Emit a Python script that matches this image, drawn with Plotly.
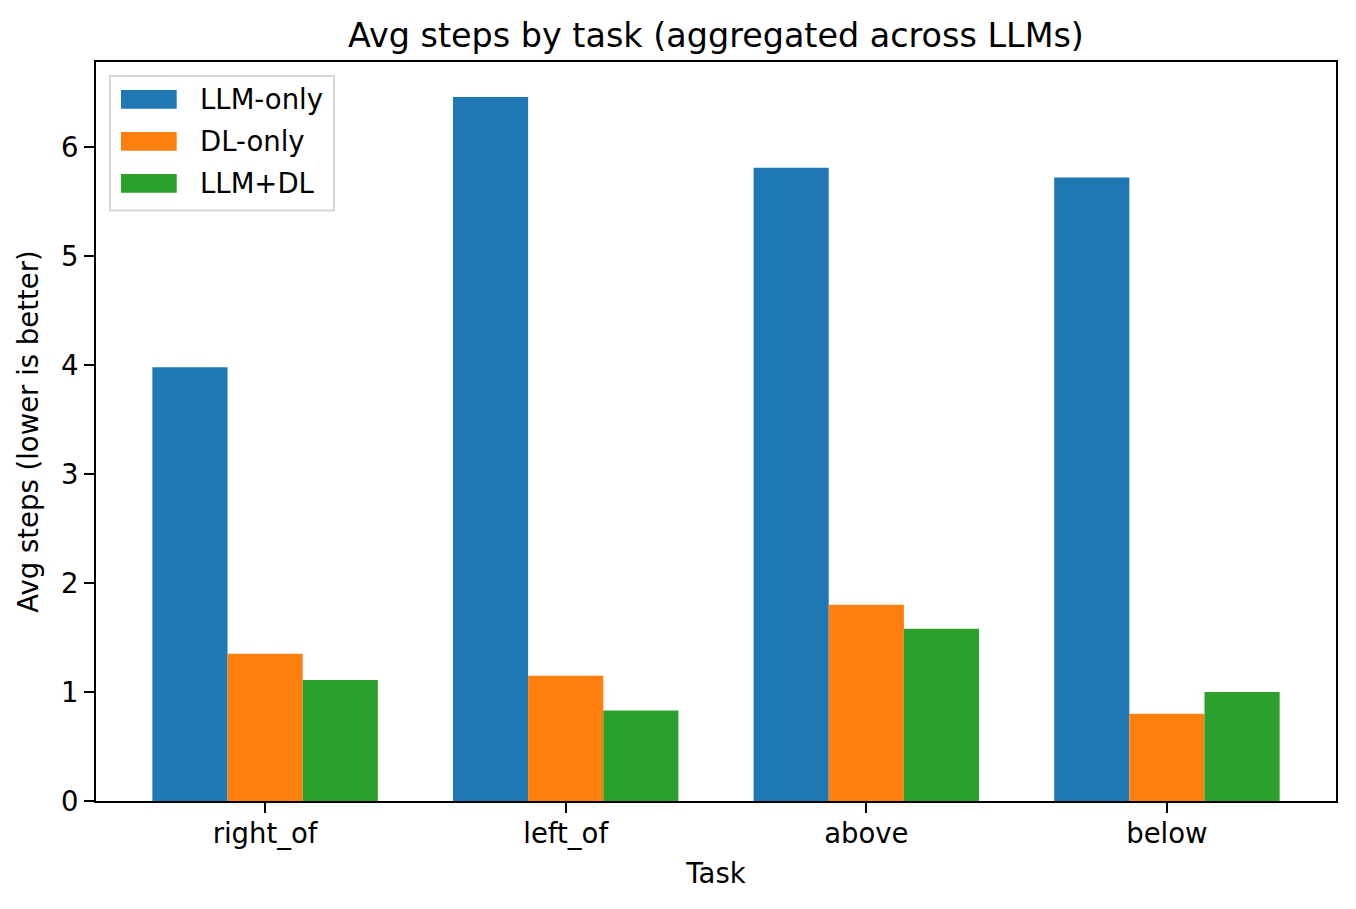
import plotly.graph_objects as go

tasks = ["right_of", "left_of", "above", "below"]
llm_only = [3.98, 6.46, 5.81, 5.72]
dl_only = [1.35, 1.15, 1.80, 0.80]
llm_dl = [1.11, 0.83, 1.58, 1.00]
series_names = ["LLM-only", "DL-only", "LLM+DL"]
colors = ["#1f77b4", "#ff7f0e", "#2ca02c"]

OFF = 8  # page body margin
W, H = 1356, 909
L, R, T, B = 96 - OFF, 1336 - OFF, 62 - OFF, 801 - OFF
FS = 27.5

def px(x):
    return (x - OFF - L) / (R - L)

def py(y):
    return (B - (y - OFF)) / (B - T)

fig = go.Figure()
for name, vals, c in zip(series_names, [llm_only, dl_only, llm_dl], colors):
    fig.add_trace(go.Bar(x=tasks, y=vals, name=name, marker=dict(color=c, line=dict(width=0)),
                         showlegend=False))

shapes = []
annotations = []
shapes.append(dict(type="rect", xref="paper", yref="paper",
                   x0=px(110), x1=px(334), y0=py(210.5), y1=py(76),
                   line=dict(color="#d6d6d6", width=2), fillcolor="rgba(255,255,255,0.8)", layer="above"))
rows = [(90, 108.7), (132, 150.7), (174, 192.7)]
for (y0, y1), name, c in zip(rows, series_names, colors):
    shapes.append(dict(type="rect", xref="paper", yref="paper",
                       x0=px(121), x1=px(176.7), y0=py(y1), y1=py(y0),
                       line=dict(width=0), fillcolor=c, layer="above"))
    annotations.append(dict(xref="paper", yref="paper", x=px(198), y=py((y0 + y1) / 2),
                            text=name, showarrow=False, xanchor="left", yanchor="middle",
                            font=dict(size=FS, color="black")))

fig.update_layout(
    width=W, height=H,
    margin=dict(l=L, r=W - R, t=T, b=H - B, pad=0),
    paper_bgcolor="white", plot_bgcolor="white",
    font=dict(family="DejaVu Sans", size=FS, color="black"),
    barmode="group", bargap=0.25, bargroupgap=0,
    title=dict(text="Avg steps by task (aggregated across LLMs)", x=(716 - OFF) / W,
               xanchor="center", y=1 - (35 - OFF) / H, yanchor="middle", yref="container",
               font=dict(size=33.4, color="black")),
    xaxis=dict(type="category", range=[-0.5625, 3.5625], showline=True, linecolor="black",
               linewidth=2, mirror=True, ticks="outside", ticklen=10, tickwidth=2,
               tickcolor="black", showgrid=False, zeroline=False, ticklabelstandoff=-3,
               title=dict(text="Task", standoff=15, font=dict(size=FS))),
    yaxis=dict(range=[0, 6.78], tickvals=[0, 1, 2, 3, 4, 5, 6], showline=True, linecolor="black",
               linewidth=2, mirror=True, ticks="outside", ticklen=10, tickwidth=2,
               tickcolor="black", showgrid=False, zeroline=False,
               title=dict(text="Avg steps (lower is better)", standoff=14, font=dict(size=FS))),
    shapes=shapes, annotations=annotations,
)

fig.write_html("out.html")
